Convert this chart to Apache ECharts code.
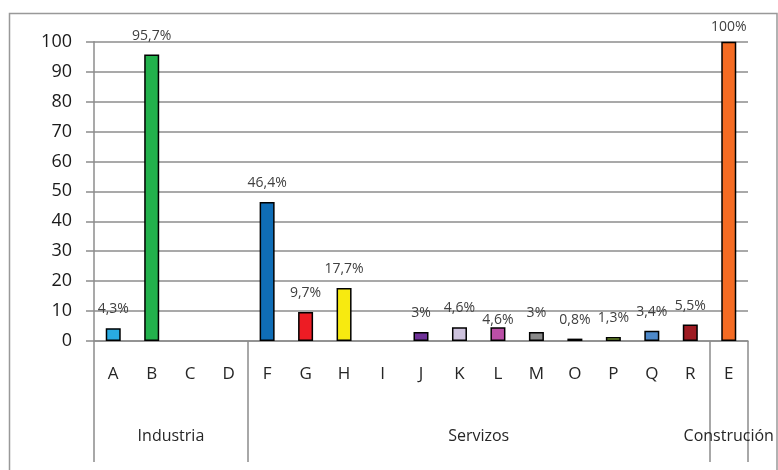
<!DOCTYPE html>
<html>
<head>
<meta charset="utf-8">
<script src="https://cdn.jsdelivr.net/npm/echarts@6/dist/echarts.min.js"></script>
<style>
html,body{margin:0;padding:0;background:#fff;}
#chart{width:778px;height:470px;}
</style>
</head>
<body>
<div id="chart"></div>
<script>
var categories = ['A','B','C','D','F','G','H','I','J','K','L','M','O','P','Q','R','E'];
var values = [4.3, 95.7, null, null, 46.4, 9.7, 17.7, null, 3, 4.6, 4.6, 3, 0.8, 1.3, 3.4, 5.5, 100];
var labels = ['4,3%','95,7%','','','46,4%','9,7%','17,7%','','3%','4,6%','4,6%','3%','0,8%','1,3%','3,4%','5,5%','100%'];
var colors = ['#29ABE2','#22B14C','#999','#999','#0F6DB6','#ED1C24','#F7EA10','#999','#6F3198','#CEC3DE','#BA4FA6','#8A8A8A','#2E5F9E','#9BCB3C','#4D88C9','#9E1B22','#F46B23'];
var groupNames = ['Industria','Servizos','Construción'];
var groupSizes = [4, 12, 1];
var yTicks = [0,10,20,30,40,50,60,70,80,90,100];

var labelDist = {L: 0, E: 8};

var bounds = [0];
var centers = [];
groupSizes.forEach(function(n){
  var s = bounds[bounds.length-1];
  centers.push(s + n/2);
  bounds.push(s + n);
});

var data = values.map(function(v, i){
  var d = {
    value: v,
    itemStyle: {color: colors[i]},
    label: {formatter: labels[i]}
  };
  if (labelDist[categories[i]] !== undefined) {
    d.label.distance = labelDist[categories[i]];
  }
  return d;
});

var chart = echarts.init(document.getElementById('chart'));
var gridColor = '#8C8C8C';
chart.setOption({
  animation: false,
  backgroundColor: '#fff',
  graphic: [{
    type: 'rect',
    shape: {x: 9.5, y: 13.5, width: 767.5, height: 470},
    style: {fill: 'none', stroke: '#999', lineWidth: 1.5},
    z: -1
  }],
  grid: {left: 94, right: 30, top: 41.7, bottom: 129},
  xAxis: [{
    type: 'category',
    data: categories,
    boundaryGap: true,
    axisLine: {lineStyle: {color: gridColor, width: 1.5}},
    axisTick: {interval: 0, length: 60, lineStyle: {color: gridColor, width: 1.5}},
    axisLabel: {interval: 0, margin: 33, verticalAlign: 'middle', color: '#262626', fontSize: 17, fontFamily: 'Open Sans'}
  }, {
    type: 'value',
    position: 'bottom',
    min: 0, max: categories.length,
    axisLine: {show: false},
    splitLine: {show: false},
    axisTick: {show: true, length: 121, customValues: bounds, lineStyle: {color: gridColor, width: 1.5}},
    axisLabel: {
      show: true, margin: 95, verticalAlign: 'middle', color: '#262626', fontSize: 16, fontFamily: 'Open Sans',
      customValues: centers,
      formatter: function(v){ var i = centers.indexOf(v); return i >= 0 ? groupNames[i] : ''; }
    }
  }],
  yAxis: {
    type: 'value',
    min: yTicks[0], max: yTicks[yTicks.length-1], interval: 10,
    axisLine: {show: true, lineStyle: {color: gridColor, width: 1.5}},
    axisTick: {show: true, length: 8, lineStyle: {color: gridColor, width: 1.5}},
    splitLine: {lineStyle: {color: gridColor, width: 1.5}},
    axisLabel: {margin: 22, color: '#1a1a1a', fontSize: 18, fontFamily: 'Open Sans'}
  },
  series: [{
    type: 'bar',
    xAxisIndex: 0,
    data: data,
    barWidth: 15,
    itemStyle: {borderColor: '#000', borderWidth: 1.5},
    label: {show: true, position: 'top', distance: 12, color: '#404040', fontSize: 14, fontFamily: 'Open Sans'}
  }]
});
</script>
</body>
</html>
